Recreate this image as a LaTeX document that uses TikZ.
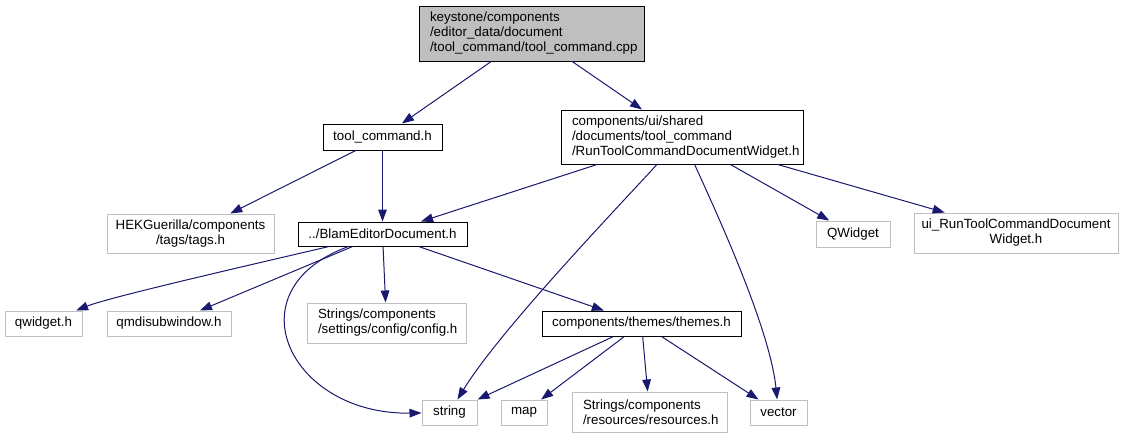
\documentclass[tikz,border=0pt]{standalone}
\usepackage{fontspec}
\setmainfont{Liberation Sans}
\usetikzlibrary{arrows.meta}
\definecolor{edgec}{HTML}{191970}
\definecolor{extc}{HTML}{BFBFBF}
\definecolor{rootc}{HTML}{BFBFBF}
\begin{document}
\begin{tikzpicture}[x=0.75pt,y=-0.75pt,
  box/.style={draw=black, line width=0.75pt, inner sep=0pt, fill=white,
    font=\fontsize{10}{11.25}\selectfont, anchor=center},
  ext/.style={box, draw=extc},
  edge/.style={draw=edgec, line width=0.75pt, -{Triangle[length=9pt,width=6.5pt]}}]
\fill[white] (0,0) rectangle (1123,439);
\useasboundingbox (0,0) rectangle (1123,439);

\node[box, fill=rootc, minimum width=168.75pt, minimum height=41.25pt, text width=152.25pt, align=left] (root) at (531.5,33.5)
  {keystone/components\\/editor\_data/document\\/tool\_command/tool\_command.cpp};
\node[box, minimum width=89.25pt, minimum height=19.5pt] (tc) at (382.5,137) {tool\_command.h};
\node[box, minimum width=181.5pt, minimum height=40.5pt, text width=165pt, align=left] (rt) at (682,137)
  {components/ui/shared\\/documents/tool\_command\\/RunToolCommandDocumentWidget.h};
\node[ext, minimum width=125.25pt, minimum height=29.25pt, align=center] (hek) at (190.5,233.5)
  {HEKGuerilla/components\\/tags/tags.h};
\node[box, minimum width=126.75pt, minimum height=18pt] (blam) at (382.5,234) {../BlamEditorDocument.h};
\node[ext, minimum width=55.5pt, minimum height=19.5pt] (qw) at (853,234) {QWidget};
\node[ext, minimum width=153pt, minimum height=30pt, align=center] (ui) at (1016,233)
  {ui\_RunToolCommandDocument\\Widget.h};
\node[ext, minimum width=57.75pt, minimum height=18.75pt] (qwh) at (43.5,323.5) {qwidget.h};
\node[ext, minimum width=93pt, minimum height=18.75pt] (qmdi) at (169,323.5) {qmdisubwindow.h};
\node[ext, minimum width=119.25pt, minimum height=30pt, text width=102.75pt, align=left] (cfg) at (386.5,323)
  {Strings/components\\/settings/config/config.h};
\node[box, minimum width=149.25pt, minimum height=18.75pt] (th) at (641.5,323.5) {components/themes/themes.h};
\node[ext, minimum width=41.25pt, minimum height=18.75pt] (str) at (449.5,412.5) {string};
\node[ext, minimum width=34.5pt, minimum height=18.75pt] (map) at (524,412.5) {map};
\node[ext, minimum width=116.25pt, minimum height=30pt, text width=99.75pt, align=left] (res) at (649.5,412)
  {Strings/components\\/resources/resources.h};
\node[ext, minimum width=42.75pt, minimum height=18.75pt] (vec) at (778.5,412.5) {vector};

\draw[edge] (root) -- (tc);
\draw[edge] (root) -- (rt);
\draw[edge] (tc) -- (hek);
\draw[edge] (tc) -- (blam);
\draw[edge] (rt) -- (blam);
\draw[edge] (rt) .. controls (620,205) and (500,330) .. (str);
\draw[edge] (rt) .. controls (720,220) and (770,330) .. (vec);
\draw[edge] (rt) -- (qw);
\draw[edge] (rt) -- (ui);
\draw[edge] (blam) .. controls (250,265) and (110,297) .. (qwh);
\draw[edge] (blam) -- (qmdi);
\draw[edge] (blam) .. controls (230,290) and (290,415) .. (str);
\draw[edge] (blam) -- (cfg);
\draw[edge] (blam) -- (th);
\draw[edge] (th) -- (str);
\draw[edge] (th) -- (map);
\draw[edge] (th) -- (res);
\draw[edge] (th) -- (vec);
\end{tikzpicture}
\end{document}
